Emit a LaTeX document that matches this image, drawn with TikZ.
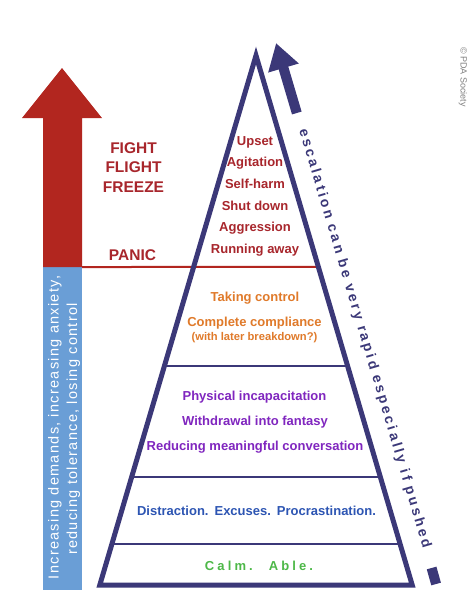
\documentclass[tikz,border=0pt]{standalone}
\usepackage{fontspec}
\setmainfont{Liberation Sans}
\newfontfamily\barfont{Liberation Sans}[LetterSpace=9]
\newfontfamily\escfont{Liberation Sans}[LetterSpace=19.5]
\newfontfamily\calmfont{Liberation Sans}[LetterSpace=24]
\usetikzlibrary{arrows.meta,calc}
\definecolor{arrowred}{HTML}{B2261F}
\definecolor{txtred}{HTML}{A8262C}
\definecolor{navy}{HTML}{3B3878}
\definecolor{barblue}{HTML}{6A9ED6}
\definecolor{txtorange}{HTML}{E07A2A}
\definecolor{txtpurple}{HTML}{8026BF}
\definecolor{txtblue}{HTML}{2D55B3}
\definecolor{txtgreen}{HTML}{4DB848}
\newcommand\fsz[1]{\fontsize{#1}{#1}\selectfont}
\begin{document}
\begin{tikzpicture}[x=1pt,y=-1pt,
  lbl/.style={anchor=base, inner sep=0pt, font=\bfseries\fsz{13}},
  sepline/.style={navy, line width=2pt},
  tri/.style={navy, line width=5pt, line join=miter},
  esc/.style={navy, line width=10pt}
]
\useasboundingbox[fill=white] (0,0) rectangle (475,616);

% big red/blue arrow on the left
\fill[barblue] (43,267) rectangle (82,590);
\fill[arrowred] (43,267) -- (43,118) -- (22,118) -- (62,68) -- (102,118) -- (82,118) -- (82,267) -- cycle;

% pyramid corners
\coordinate (apex) at (256,55.5);
\coordinate (bl) at (99.8,585);
\coordinate (br) at (412.2,585);

% PANIC line
\draw[arrowred, line width=2pt] (82,267) -- ($(apex)!0.3994!(br)$);

% separators
\draw[sepline] ($(apex)!0.5864!(bl)$) -- ($(apex)!0.5864!(br)$);
\draw[sepline] ($(apex)!0.7960!(bl)$) -- ($(apex)!0.7960!(br)$);
\draw[sepline] ($(apex)!0.9226!(bl)$) -- ($(apex)!0.9226!(br)$);

% triangle
\draw[tri] (apex) -- (bl) -- (br) -- cycle;

% escalation arrow
\coordinate (escS) at (296.8,113);
\coordinate (escT) at (276.1,43.1);
\draw[esc, -{Triangle[width=30pt,length=26pt]}] (escS) -- (escT);
\coordinate (dashA) at (431.6,568);
\coordinate (dashB) at (436.1,584);
\draw[esc] (dashA) -- (dashB);
\node[navy, inner sep=0pt, rotate=-73.5, font=\escfont\bfseries\fsz{14}] (esctxt) at (364.5,338.5)
  {escalation can be very rapid especially if pushed};

% left labels
\node[lbl, txtred, font=\bfseries\fsz{15.5}] (fight) at (133.5,153) {FIGHT};
\node[lbl, txtred, font=\bfseries\fsz{15.5}] (flight) at (133.5,172.5) {FLIGHT};
\node[lbl, txtred, font=\bfseries\fsz{15.5}] (freeze) at (133.5,192) {FREEZE};
\node[lbl, txtred, font=\bfseries\fsz{15.5}] (panic) at (132.5,260) {PANIC};

% red items
\node[lbl, txtred] (upset) at (255,145) {Upset};
\node[lbl, txtred] (agit) at (255,166.7) {Agitation};
\node[lbl, txtred] (selfh) at (255,188.3) {Self-harm};
\node[lbl, txtred] (shut) at (255,210) {Shut down};
\node[lbl, txtred] (aggr) at (255,231.7) {Aggression};
\node[lbl, txtred] (run) at (255,253.3) {Running away};

% orange items
\node[lbl, txtorange] (taking) at (255,301.7) {Taking control};
\node[lbl, txtorange] (compl) at (254.5,326.7) {Complete compliance};
\node[lbl, txtorange, font=\bfseries\fsz{11.2}] (later) at (254.5,340) {(with later breakdown?)};

% purple items
\node[lbl, txtpurple] (phys) at (254.5,400.7) {Physical incapacitation};
\node[lbl, txtpurple] (withd) at (255,425.7) {Withdrawal into fantasy};
\node[lbl, txtpurple] (reduc) at (255,450.7) {Reducing meaningful conversation};

% blue item
\node[lbl, txtblue] (distr) at (256.5,515) {Distraction.\hspace{6pt}Excuses.\hspace{6pt}Procrastination.};

% green item
\node[lbl, txtgreen, font=\calmfont\bfseries\fsz{13}] (calm) at (259,570) {Calm.\hspace{16pt}Able.};

% bar text
\node[anchor=base, inner sep=0pt, white, rotate=90, font=\barfont\fsz{14.5}] (bar1) at (58.5,427.5)
  {Increasing demands, increasing anxiety,};
\node[anchor=base, inner sep=0pt, white, rotate=90, font=\barfont\fsz{14.5}] (bar2) at (77,429)
  {reducing tolerance, losing control};

% copyright
\node[inner sep=0pt, gray, rotate=-90, font=\fsz{9}] (copy) at (463,77) {\textcopyright{} PDA Society};
\end{tikzpicture}
\end{document}
